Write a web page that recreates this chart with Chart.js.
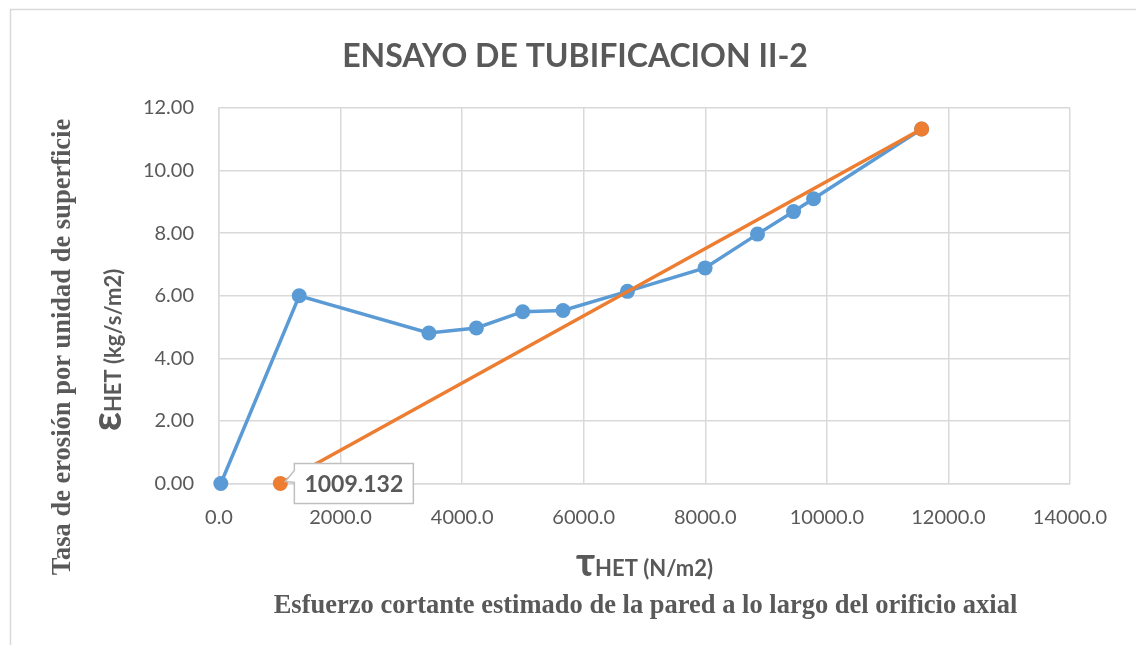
<!DOCTYPE html>
<html>
<head>
<meta charset="utf-8">
<script src="https://cdn.jsdelivr.net/npm/chart.js@4.4.1/dist/chart.umd.min.js"></script>
<style>
  html, body { margin: 0; padding: 0; background: #ffffff; }
  #wrap { position: relative; width: 1136px; height: 645px; }
  canvas { display: block; }
</style>
</head>
<body>
<div id="wrap"><canvas id="c" width="1136" height="645"></canvas></div>
<script>
// Shear stress (N/m2) and erosion rate (kg/s/m2) for test II-2
const tauHET = [30, 1320, 3453, 4234, 4996, 5659, 6719, 7997, 8859, 9452, 9781, 11559];
const epsHET = [0.00, 6.00, 4.81, 4.97, 5.49, 5.53, 6.14, 6.89, 7.97, 8.69, 9.10, 11.33];

// Linear fit: critical stress intercept and end point
const fitTau = [1009.132, 11559];
const fitEps = [0.00, 11.33];

const xTicks = [0, 2000, 4000, 6000, 8000, 10000, 12000, 14000];
const yTicks = [0, 2, 4, 6, 8, 10, 12];

const chartTitle = 'ENSAYO DE TUBIFICACION II-2';
const yTitleSerif = 'Tasa de erosión por unidad de superficie';
const yTitleSymbol = 'ε';
const yTitleRest = 'HET (kg/s/m2)';
const xTitleSymbol = 'τ';
const xTitleRest = 'HET (N/m2)';
const xTitleSerif = 'Esfuerzo cortante estimado de la pared a lo largo del orificio axial';
const fitLabel = fitTau[0].toFixed(3);

const BLUE = '#5B9BD5';
const ORANGE = '#ED7D31';
const GRID = '#d9d9d9';
const TEXT = '#595959';

const toPoints = (xs, ys) => xs.map((x, i) => ({ x: x, y: ys[i] }));

const decorations = {
  id: 'decorations',
  beforeDraw(chart) {
    const ctx = chart.ctx;
    ctx.save();
    ctx.fillStyle = '#ffffff';
    ctx.fillRect(0, 0, chart.width, chart.height);
    // outer frame (top and left edges)
    ctx.strokeStyle = '#d9d9d9';
    ctx.lineWidth = 1.5;
    ctx.beginPath();
    ctx.moveTo(10.5, chart.height);
    ctx.lineTo(10.5, 9.5);
    ctx.lineTo(chart.width, 9.5);
    ctx.stroke();
    ctx.restore();
  },
  afterDraw(chart) {
    const ctx = chart.ctx;
    const area = chart.chartArea;
    const xs = chart.scales.x, ys = chart.scales.y;
    ctx.save();
    ctx.fillStyle = TEXT;
    ctx.textBaseline = 'alphabetic';

    // chart title
    ctx.font = 'bold 32px Lato';
    ctx.textAlign = 'center';
    ctx.fillText(chartTitle, 575, 67);

    // x axis titles
    const cx = (area.left + area.right) / 2;
    ctx.textAlign = 'left';
    ctx.font = 'bold 40px Lato';
    const wSym = ctx.measureText(xTitleSymbol).width;
    ctx.font = 'bold 22px Lato';
    const wRest = ctx.measureText(xTitleRest).width;
    let sx = cx - (wSym + wRest) / 2;
    ctx.font = 'bold 40px Lato';
    ctx.fillText(xTitleSymbol, sx, 576);
    ctx.font = 'bold 22px Lato';
    ctx.fillText(xTitleRest, sx + wSym, 576);

    ctx.font = 'bold 26.5px "Liberation Serif"';
    ctx.textAlign = 'center';
    ctx.fillText(xTitleSerif, cx + 1, 613);

    // y axis titles (rotated)
    const cy = 347;
    ctx.save();
    ctx.translate(70, cy);
    ctx.rotate(-Math.PI / 2);
    ctx.font = 'bold 26.5px "Liberation Serif"';
    ctx.textAlign = 'center';
    ctx.fillText(yTitleSerif, 0, 0);
    ctx.restore();

    ctx.save();
    ctx.translate(121, 350);
    ctx.rotate(-Math.PI / 2);
    ctx.textAlign = 'left';
    ctx.font = 'bold 42px Lato';
    const wE = ctx.measureText(yTitleSymbol).width;
    ctx.font = 'bold 22px Lato';
    const wR = ctx.measureText(yTitleRest).width;
    let sy = -(wE + wR) / 2;
    ctx.font = 'bold 42px Lato';
    ctx.fillText(yTitleSymbol, sy, 0);
    ctx.font = 'bold 22px Lato';
    ctx.fillText(yTitleRest, sy + wE, 0);
    ctx.restore();

    // callout label on the fit intercept
    const px = xs.getPixelForValue(fitTau[0]);
    const py = ys.getPixelForValue(fitEps[0]);
    const bx = px + 14, by = py - 20, bw = 119, bh = 40;
    ctx.beginPath();
    ctx.moveTo(bx, by);
    ctx.lineTo(bx + bw, by);
    ctx.lineTo(bx + bw, by + bh);
    ctx.lineTo(bx, by + bh);
    ctx.lineTo(bx, by + 19);
    ctx.lineTo(px + 5, py - 2);
    ctx.lineTo(bx, by + 7);
    ctx.closePath();
    ctx.fillStyle = '#ffffff';
    ctx.fill();
    ctx.strokeStyle = '#bfbfbf';
    ctx.lineWidth = 1.5;
    ctx.stroke();
    ctx.fillStyle = TEXT;
    ctx.font = 'bold 23px Lato';
    ctx.textAlign = 'center';
    ctx.textBaseline = 'middle';
    ctx.fillText(fitLabel, bx + bw / 2, by + bh / 2 + 1);

    ctx.restore();
  }
};

new Chart(document.getElementById('c'), {
  type: 'scatter',
  data: {
    datasets: [
      {
        label: 'ajuste',
        data: toPoints(fitTau, fitEps),
        showLine: true,
        clip: false,
        borderColor: ORANGE,
        backgroundColor: ORANGE,
        borderWidth: 3.5,
        pointRadius: 7.5,
        pointHoverRadius: 7.5,
        pointBorderWidth: 0,
        order: 0
      },
      {
        label: 'II-2',
        data: toPoints(tauHET, epsHET),
        showLine: true,
        clip: false,
        borderColor: BLUE,
        backgroundColor: BLUE,
        borderWidth: 3.5,
        pointRadius: 7.5,
        pointHoverRadius: 7.5,
        pointBorderWidth: 0,
        order: 1
      }
    ]
  },
  options: {
    responsive: false,
    animation: false,
    events: [],
    layout: { padding: { top: 108, right: 66, left: 0, bottom: 0 } },
    plugins: {
      legend: { display: false },
      title: { display: false },
      tooltip: { enabled: false }
    },
    scales: {
      x: {
        type: 'linear',
        min: xTicks[0],
        max: xTicks[xTicks.length - 1],
        afterBuildTicks: s => { s.ticks = xTicks.map(v => ({ value: v })); },
        afterFit: s => { s.height = 161.5; },
        grid: { color: GRID, lineWidth: 1.5, drawTicks: false },
        border: { color: GRID, width: 1.5 },
        ticks: {
          padding: 22,
          color: TEXT,
          font: { family: 'Lato', size: 20 },
          maxRotation: 0,
          callback: v => Number(v).toFixed(1)
        }
      },
      y: {
        type: 'linear',
        min: yTicks[0],
        max: yTicks[yTicks.length - 1],
        afterBuildTicks: s => { s.ticks = yTicks.map(v => ({ value: v })); },
        afterFit: s => { s.width = 219; },
        grid: { color: GRID, lineWidth: 1.5, drawTicks: false },
        border: { color: GRID, width: 1.5 },
        ticks: {
          padding: 25,
          color: TEXT,
          font: { family: 'Lato', size: 20 },
          callback: v => Number(v).toFixed(2)
        }
      }
    }
  },
  plugins: [decorations]
});
</script>
</body>
</html>
